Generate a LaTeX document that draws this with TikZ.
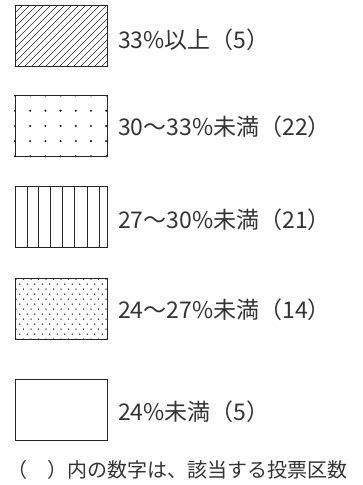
\documentclass[tikz,border=0pt]{standalone}
\usepackage{fontspec}
\setmainfont{Noto Sans CJK JP}
\begin{document}
\begin{tikzpicture}[x=1pt,y=-1pt,
  box/.style={draw=black!85, line width=0.9pt, minimum width=92pt, minimum height=61pt, inner sep=0pt, outer sep=0pt},
  lbl/.style={anchor=west, inner sep=0pt, text=black!80, font=\fontsize{23}{27}\selectfont},
  note/.style={anchor=west, inner sep=0pt, text=black!80, font=\fontsize{20}{24}\selectfont},
  hatch/.style={line width=0.7pt, black!85},
  dot/.style={fill=black!90}]
\useasboundingbox (0,0) rectangle (362,485);
% box 1: diagonal hatching
\begin{scope}
  \clip (15,5.5) rectangle (107,66.5);
  \foreach \i in {0,...,24} \draw[hatch] ({15+\i*7-62},68) -- ++(64,-64);
\end{scope}
\node[box] (b1) at (61,36) {};
% box 2: dot grid
\begin{scope}
  \clip (14,95) rectangle (108,157);
  \foreach \x in {15,30.2,45.4,60.6,75.8,91,106.2}
    \foreach \y in {95.5,110.7,125.9,141.1,156.3}
      \fill[dot] (\x,\y) circle (1.15pt);
\end{scope}
\node[box] (b2) at (61,126) {};
% box 3: vertical lines
\foreach \x in {27,38.5,50,62,74,87,99}
  \draw[line width=0.9pt, black!85] (\x,186.5) -- (\x,247.5);
\node[box] (b3) at (61,217) {};
% box 4: fine staggered dots
\begin{scope}
  \clip (15,278) rectangle (107,339);
  \foreach \r in {0,...,12} {
    \pgfmathsetmacro{\yy}{279+\r*5}
    \pgfmathsetmacro{\off}{mod(\r,2)*3.75}
    \foreach \c in {0,...,13}
      \fill[dot] ({16+\off+\c*7.5},\yy) circle (0.75pt);
  }
\end{scope}
\node[box] (b4) at (61,308.5) {};
% box 5: empty
\node[box] (b5) at (61,409.5) {};
% labels
\node[lbl] (t1) at (118,40) {33\%以上（5）};
\node[lbl] (t2) at (118,127) {30～33\%未満（22）};
\node[lbl] (t3) at (118,220) {27～30\%未満（21）};
\node[lbl] (t4) at (118,310) {24～27\%未満（14）};
\node[lbl] (t5) at (118,412) {24\%未満（5）};
\node[note] (note) at (7,470) {（　）内の数字は、該当する投票区数};
\end{tikzpicture}
\end{document}
